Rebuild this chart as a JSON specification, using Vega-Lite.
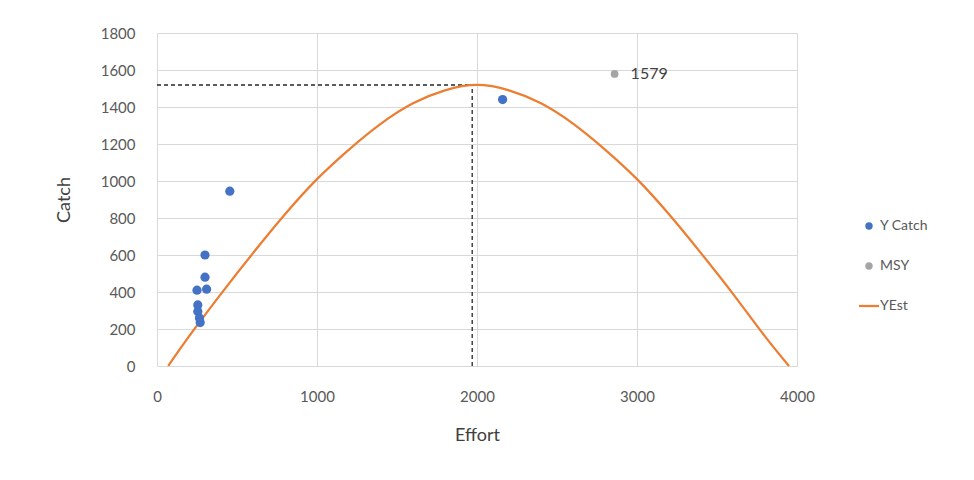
{
  "$schema": "https://vega.github.io/schema/vega-lite/v6.json",
  "width": 640,
  "height": 333,
  "autosize": {"type": "none"},
  "padding": {"left": 157, "top": 33, "right": 177, "bottom": 114},
  "background": "white",
  "config": {
    "font": "Lato",
    "view": {"stroke": null},
    "axis": {
      "grid": true,
      "gridColor": "#D9D9D9",
      "gridWidth": 1,
      "domain": false,
      "ticks": false,
      "labelColor": "#595959",
      "labelFontSize": 15,
      "labelOverlap": false,
      "labelFlush": false,
      "format": "d",
      "titleColor": "#404040",
      "titleFontSize": 18,
      "titleFontWeight": "normal"
    }
  },
  "datasets": {
    "yest": [
      {"effort": 70, "catch": 0, "series": "YEst"},
      {"effort": 200, "catch": 160, "series": "YEst"},
      {"effort": 400, "catch": 390, "series": "YEst"},
      {"effort": 600, "catch": 610, "series": "YEst"},
      {"effort": 800, "catch": 820, "series": "YEst"},
      {"effort": 1000, "catch": 1010, "series": "YEst"},
      {"effort": 1200, "catch": 1170, "series": "YEst"},
      {"effort": 1400, "catch": 1310, "series": "YEst"},
      {"effort": 1600, "catch": 1420, "series": "YEst"},
      {"effort": 1800, "catch": 1490, "series": "YEst"},
      {"effort": 2000, "catch": 1519, "series": "YEst"},
      {"effort": 2200, "catch": 1490, "series": "YEst"},
      {"effort": 2400, "catch": 1420, "series": "YEst"},
      {"effort": 2600, "catch": 1310, "series": "YEst"},
      {"effort": 2800, "catch": 1170, "series": "YEst"},
      {"effort": 3000, "catch": 1010, "series": "YEst"},
      {"effort": 3200, "catch": 820, "series": "YEst"},
      {"effort": 3400, "catch": 610, "series": "YEst"},
      {"effort": 3600, "catch": 390, "series": "YEst"},
      {"effort": 3800, "catch": 160, "series": "YEst"},
      {"effort": 3950, "catch": 0, "series": "YEst"}
    ],
    "ycatch": [
      {"effort": 250, "catch": 410, "series": "Y Catch"},
      {"effort": 310, "catch": 415, "series": "Y Catch"},
      {"effort": 300, "catch": 480, "series": "Y Catch"},
      {"effort": 300, "catch": 600, "series": "Y Catch"},
      {"effort": 455, "catch": 945, "series": "Y Catch"},
      {"effort": 255, "catch": 330, "series": "Y Catch"},
      {"effort": 255, "catch": 295, "series": "Y Catch"},
      {"effort": 265, "catch": 260, "series": "Y Catch"},
      {"effort": 270, "catch": 235, "series": "Y Catch"},
      {"effort": 2160, "catch": 1440, "series": "Y Catch"}
    ],
    "msy": [
      {"effort": 2860, "catch": 1579, "series": "MSY", "label": "1579"}
    ],
    "vrule": [
      {"effort": 1970, "catch": 0, "catch2": 1519}
    ],
    "hrule": [
      {"effort": 0, "effort2": 1970, "catch": 1519}
    ]
  },
  "layer": [
    {
      "data": {"name": "hrule"},
      "mark": {"type": "rule", "color": "#262626", "strokeDash": [4, 3], "strokeWidth": 1.3},
      "encoding": {
        "x": {"field": "effort", "type": "quantitative", "scale": {"domain": [0, 4000]},
              "axis": {"values": [0, 1000, 2000, 3000, 4000], "tickCount": 5, "labelPadding": 23, "titlePadding": 22, "title": "Effort"}},
        "x2": {"field": "effort2"},
        "y": {"field": "catch", "type": "quantitative", "scale": {"domain": [0, 1800]},
              "axis": {"values": [0, 200, 400, 600, 800, 1000, 1200, 1400, 1600, 1800], "tickCount": 10, "labelPadding": 22, "titlePadding": 27, "title": "Catch"}}
      }
    },
    {
      "data": {"name": "vrule"},
      "mark": {"type": "rule", "color": "#262626", "strokeDash": [4, 3], "strokeWidth": 1.3},
      "encoding": {
        "x": {"field": "effort", "type": "quantitative"},
        "y": {"field": "catch", "type": "quantitative"},
        "y2": {"field": "catch2"}
      }
    },
    {
      "data": {"name": "yest"},
      "mark": {"type": "line", "strokeWidth": 2.25, "interpolate": "natural"},
      "encoding": {
        "x": {"field": "effort", "type": "quantitative"},
        "y": {"field": "catch", "type": "quantitative"},
        "color": {
          "field": "series", "type": "nominal",
          "scale": {"domain": ["Y Catch", "MSY", "YEst"], "range": ["#4472C4", "#A5A5A5", "#ED7D31"]},
          "legend": {
            "orient": "none", "legendX": 705, "legendY": 186, "title": null,
            "labelFontSize": 14, "labelColor": "#595959", "rowPadding": 26, "labelOffset": 4,
            "symbolStrokeWidth": 2,
            "encode": {
              "symbols": {
                "update": {
                  "shape": {"signal": "datum.value === 'YEst' ? 'stroke' : 'circle'"},
                  "size": {"signal": "datum.value === 'YEst' ? 400 : 55"},
                  "stroke": {"scale": "color", "field": "value"},
                  "strokeWidth": {"signal": "datum.value === 'YEst' ? 2.25 : 0"}
                }
              }
            }
          }
        }
      }
    },
    {
      "data": {"name": "ycatch"},
      "mark": {"type": "point", "filled": true, "shape": "circle", "size": 85, "opacity": 1},
      "encoding": {
        "x": {"field": "effort", "type": "quantitative"},
        "y": {"field": "catch", "type": "quantitative"},
        "color": {"field": "series", "type": "nominal"}
      }
    },
    {
      "data": {"name": "msy"},
      "mark": {"type": "point", "filled": true, "shape": "circle", "size": 60, "opacity": 1},
      "encoding": {
        "x": {"field": "effort", "type": "quantitative"},
        "y": {"field": "catch", "type": "quantitative"},
        "color": {"field": "series", "type": "nominal"}
      }
    },
    {
      "data": {"name": "msy"},
      "mark": {"type": "text", "align": "left", "dx": 16, "fontSize": 16, "color": "#404040", "baseline": "middle"},
      "encoding": {
        "x": {"field": "effort", "type": "quantitative"},
        "y": {"field": "catch", "type": "quantitative"},
        "text": {"field": "label"}
      }
    }
  ]
}
